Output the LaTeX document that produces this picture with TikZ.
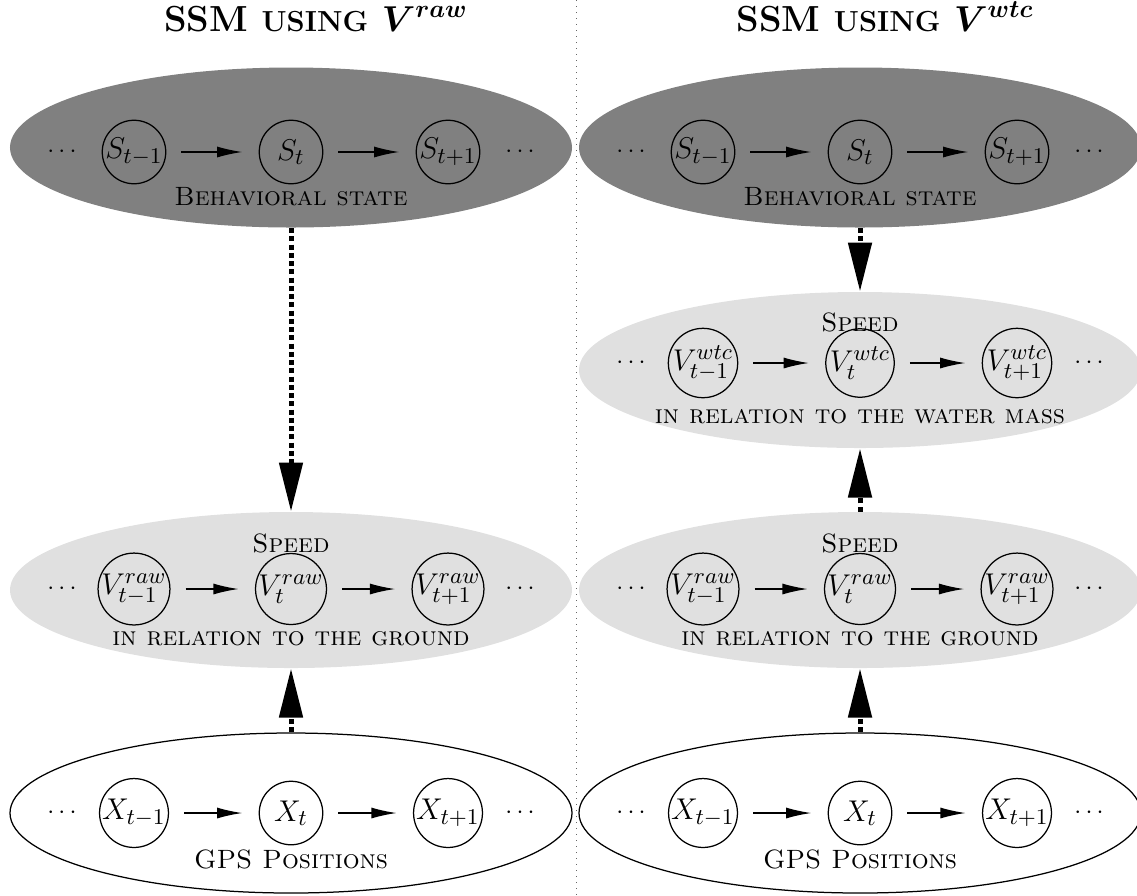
\documentclass[tikz,border=0pt]{standalone}
\usepackage{bm}
\usetikzlibrary{arrows.meta,shapes.geometric}
\tikzset{
  state/.style={circle,draw,line width=0.5pt,minimum size=25.4pt,inner sep=0pt,font=\fontsize{12.6}{14}\selectfont},
  hop/.style={-{Latex[length=10pt,width=4.4pt]},line width=0.5pt,shorten <=6pt,shorten >=6.6pt},
  bigarrow/.style={line width=2pt,dash pattern=on 2pt off 1.3pt,-{Triangle[length=19.6pt,width=9.2pt]}},
  dark/.style={ellipse,fill=black!50,minimum width=224.8pt,minimum height=64pt,inner sep=0pt},
  light/.style={ellipse,fill=black!12,minimum width=224.8pt,minimum height=62.4pt,inner sep=0pt},
  plainell/.style={ellipse,draw,line width=0.5pt,fill=white,minimum width=224.8pt,minimum height=64pt,inner sep=0pt},
  lab/.style={font=\fontsize{10.6}{12}\selectfont\scshape,anchor=base,inner sep=0pt},
  ttl/.style={anchor=base,inner sep=0pt,font=\fontsize{14.5}{17}\selectfont\bfseries},
  sep/.style={black!60,line width=0.4pt,dotted},
}
\newcommand\myrow[6]{%
  \node[state] (#1a) at (#2-157,#3) {#4};
  \node[state] (#1b) at (#2,#3) {#5};
  \node[state] (#1c) at (#2+157,#3) {#6};
  \node (#1l) at (#2-229,#3) {$\cdots$};
  \node (#1r) at (#2+229,#3) {$\cdots$};
  \draw[hop] (#1a) -- (#1b);
  \draw[hop] (#1b) -- (#1c);
}
\newcommand\smc[1]{{\fontsize{11.6}{13}\selectfont #1}}
\begin{document}
\begin{tikzpicture}[x=0.4pt,y=-0.4pt]
\useasboundingbox (0,0) rectangle (1137,895);
% separator
\coordinate (st) at (576,0);
\coordinate (sb) at (576,895);
\draw[sep] (st) -- (sb);
% titles
\node[ttl] (tl) at (316,31) {SSM \smc{USING} $\bm{V^{raw}}$};
\node[ttl] (tr) at (885,31) {SSM \smc{USING} $\bm{V^{wtc}}$};
% ---------- left column ----------
\node[dark] (bl) at (291,147.5) {};
\myrow{sl}{291}{152}{$S_{t-1}$}{$S_t$}{$S_{t+1}$}
\node[lab] (bll) at (291,205) {Behavioral state};
\node[light] (vl) at (291,590) {};
\node[lab] (vlt) at (291,552) {Speed};
\myrow{vl}{291}{589}{$V^{raw}_{t-1}$}{$V^{raw}_{t}$}{$V^{raw}_{t+1}$}
\node[lab] (vlb) at (291,645) {in relation to the ground};
\node[plainell] (gl) at (291,813) {};
\myrow{xl}{291}{813}{$X_{t-1}$}{$X_t$}{$X_{t+1}$}
\node[lab] (glb) at (291,868) {GPS Positions};
\draw[bigarrow] (bl.south) -- (vl.north);
\draw[bigarrow] (gl.north) -- (vl.south);
% ---------- right column ----------
\node[dark] (br) at (860,147.5) {};
\myrow{sr}{860}{152}{$S_{t-1}$}{$S_t$}{$S_{t+1}$}
\node[lab] (brl) at (860,205) {Behavioral state};
\node[light] (wr) at (860,370) {};
\node[lab] (wrt) at (860,331) {Speed};
\myrow{wr}{860}{363}{$V^{wtc}_{t-1}$}{$V^{wtc}_{t}$}{$V^{wtc}_{t+1}$}
\node[lab] (wrb) at (860,423) {in relation to the water mass};
\node[light] (vr) at (860,590) {};
\node[lab] (vrt) at (860,552) {Speed};
\myrow{vr}{860}{589}{$V^{raw}_{t-1}$}{$V^{raw}_{t}$}{$V^{raw}_{t+1}$}
\node[lab] (vrb) at (860,645) {in relation to the ground};
\node[plainell] (gr) at (860,813) {};
\myrow{xr}{860}{813}{$X_{t-1}$}{$X_t$}{$X_{t+1}$}
\node[lab] (grb) at (860,868) {GPS Positions};
\draw[bigarrow] (br.south) -- (wr.north);
\draw[bigarrow] (vr.north) -- (wr.south);
\draw[bigarrow] (gr.north) -- (vr.south);
\end{tikzpicture}
\end{document}
